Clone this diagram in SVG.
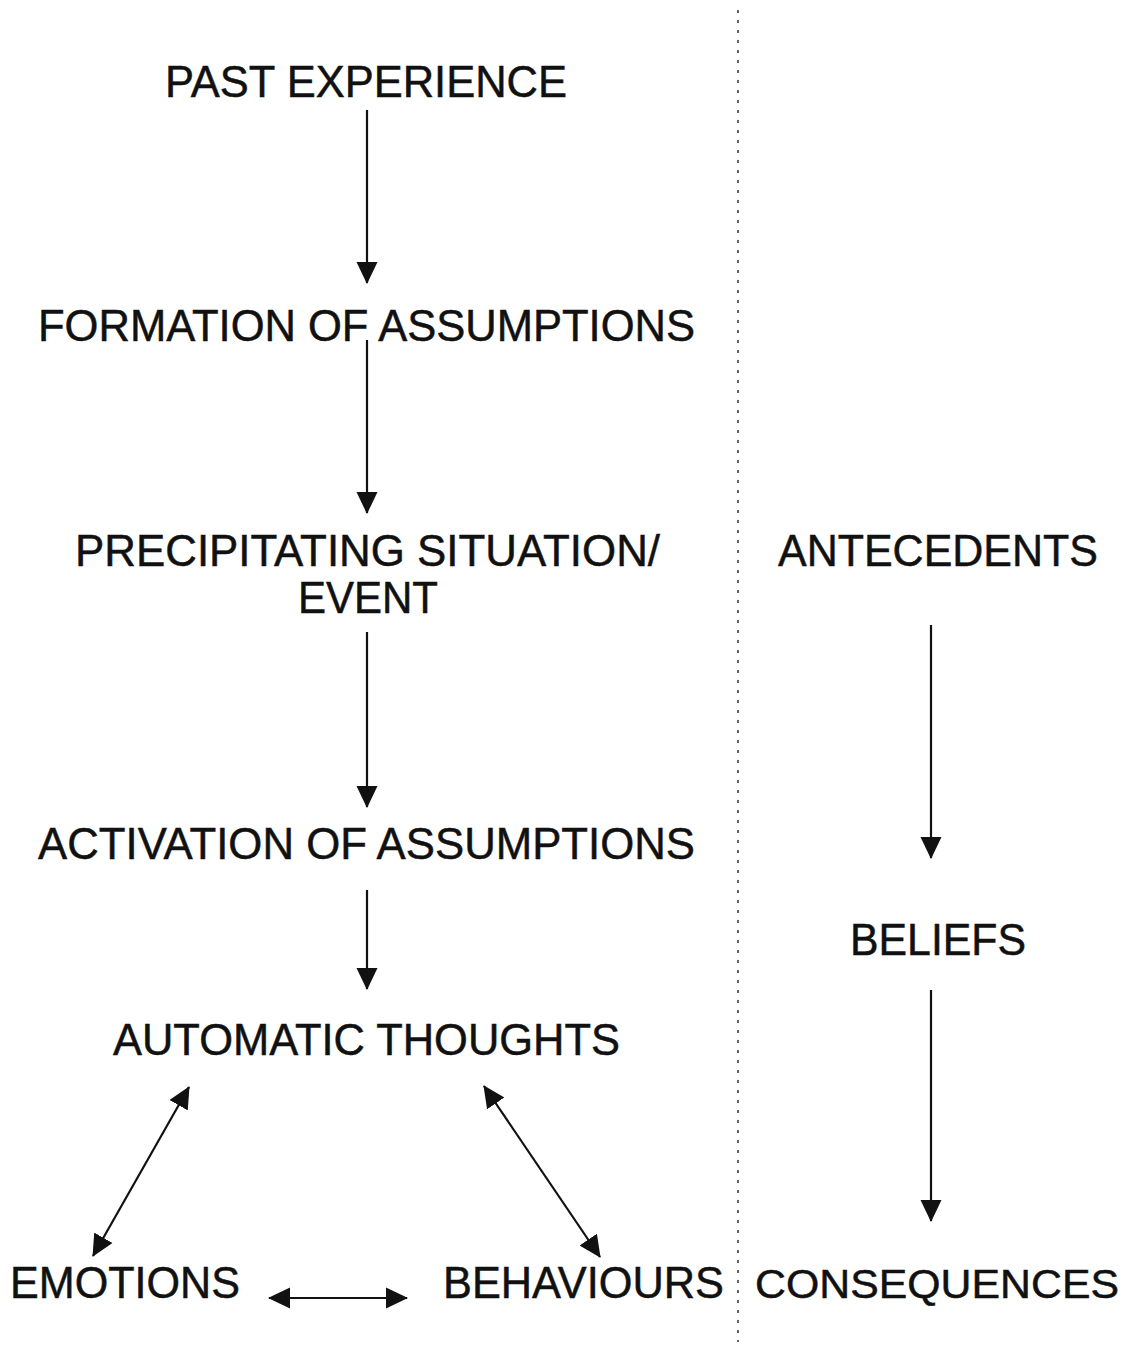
<svg xmlns="http://www.w3.org/2000/svg" width="1134" height="1348" viewBox="0 0 1134 1348">
  <style>
    .lbl { font-family: "Liberation Sans", Arial, sans-serif; font-size: 45px; fill: #111; stroke: #111; stroke-width: 0.5; }
    .lbl.wide { font-size: 41px; }
    .edge { stroke: #111; stroke-width: 2.2; fill: none; }
    .sep { stroke: #333; stroke-width: 1.5; stroke-dasharray: 3 7; fill: none; }
  </style>
  <defs>
    <marker id="head" viewBox="0 0 22 22" refX="21" refY="11" markerWidth="22" markerHeight="22" markerUnits="userSpaceOnUse" orient="auto-start-reverse">
      <path d="M0,0.5 L22,11 L0,21.5 Z" fill="#111"/>
    </marker>
  </defs>

  <rect width="1134" height="1348" fill="#fff"/>

  <!-- divider between the cognitive model and the ABC column -->
  <line class="sep" x1="738" y1="10" x2="738" y2="1342"/>

  <g id="connectors">
    <line class="edge" x1="367" y1="110" x2="367" y2="283" marker-end="url(#head)"/>
    <line class="edge" x1="367" y1="340" x2="367" y2="513" marker-end="url(#head)"/>
    <line class="edge" x1="367" y1="632" x2="367" y2="807" marker-end="url(#head)"/>
    <line class="edge" x1="367" y1="890" x2="367" y2="989" marker-end="url(#head)"/>
    <line class="edge" x1="931" y1="625" x2="931" y2="858" marker-end="url(#head)"/>
    <line class="edge" x1="931" y1="990" x2="931" y2="1221" marker-end="url(#head)"/>
    <line class="edge" x1="189" y1="1087" x2="93" y2="1256" marker-start="url(#head)" marker-end="url(#head)"/>
    <line class="edge" x1="484" y1="1086" x2="600" y2="1257" marker-start="url(#head)" marker-end="url(#head)"/>
    <line class="edge" x1="269" y1="1298" x2="407" y2="1298" marker-start="url(#head)" marker-end="url(#head)"/>
  </g>

  <g id="past-experience"><text class="lbl" x="165" y="97" textLength="402" lengthAdjust="spacingAndGlyphs">PAST EXPERIENCE</text></g>
  <g id="formation"><text class="lbl" x="38" y="341" textLength="657" lengthAdjust="spacingAndGlyphs">FORMATION OF ASSUMPTIONS</text></g>
  <g id="precipitating">
    <text class="lbl" x="75" y="566" textLength="585" lengthAdjust="spacingAndGlyphs">PRECIPITATING SITUATION/</text>
    <text class="lbl" x="298" y="613" textLength="140" lengthAdjust="spacingAndGlyphs">EVENT</text>
  </g>
  <g id="activation"><text class="lbl" x="38" y="859" textLength="657" lengthAdjust="spacingAndGlyphs">ACTIVATION OF ASSUMPTIONS</text></g>
  <g id="automatic-thoughts"><text class="lbl" x="113" y="1055" textLength="507" lengthAdjust="spacingAndGlyphs">AUTOMATIC THOUGHTS</text></g>
  <g id="emotions"><text class="lbl" x="10" y="1298" textLength="230" lengthAdjust="spacingAndGlyphs">EMOTIONS</text></g>
  <g id="behaviours"><text class="lbl" x="443" y="1298" textLength="281" lengthAdjust="spacingAndGlyphs">BEHAVIOURS</text></g>
  <g id="antecedents"><text class="lbl" x="778" y="566" textLength="320" lengthAdjust="spacingAndGlyphs">ANTECEDENTS</text></g>
  <g id="beliefs"><text class="lbl" x="850" y="955" textLength="176" lengthAdjust="spacingAndGlyphs">BELIEFS</text></g>
  <g id="consequences"><text class="lbl wide" x="755" y="1298" textLength="364" lengthAdjust="spacingAndGlyphs">CONSEQUENCES</text></g>
</svg>
